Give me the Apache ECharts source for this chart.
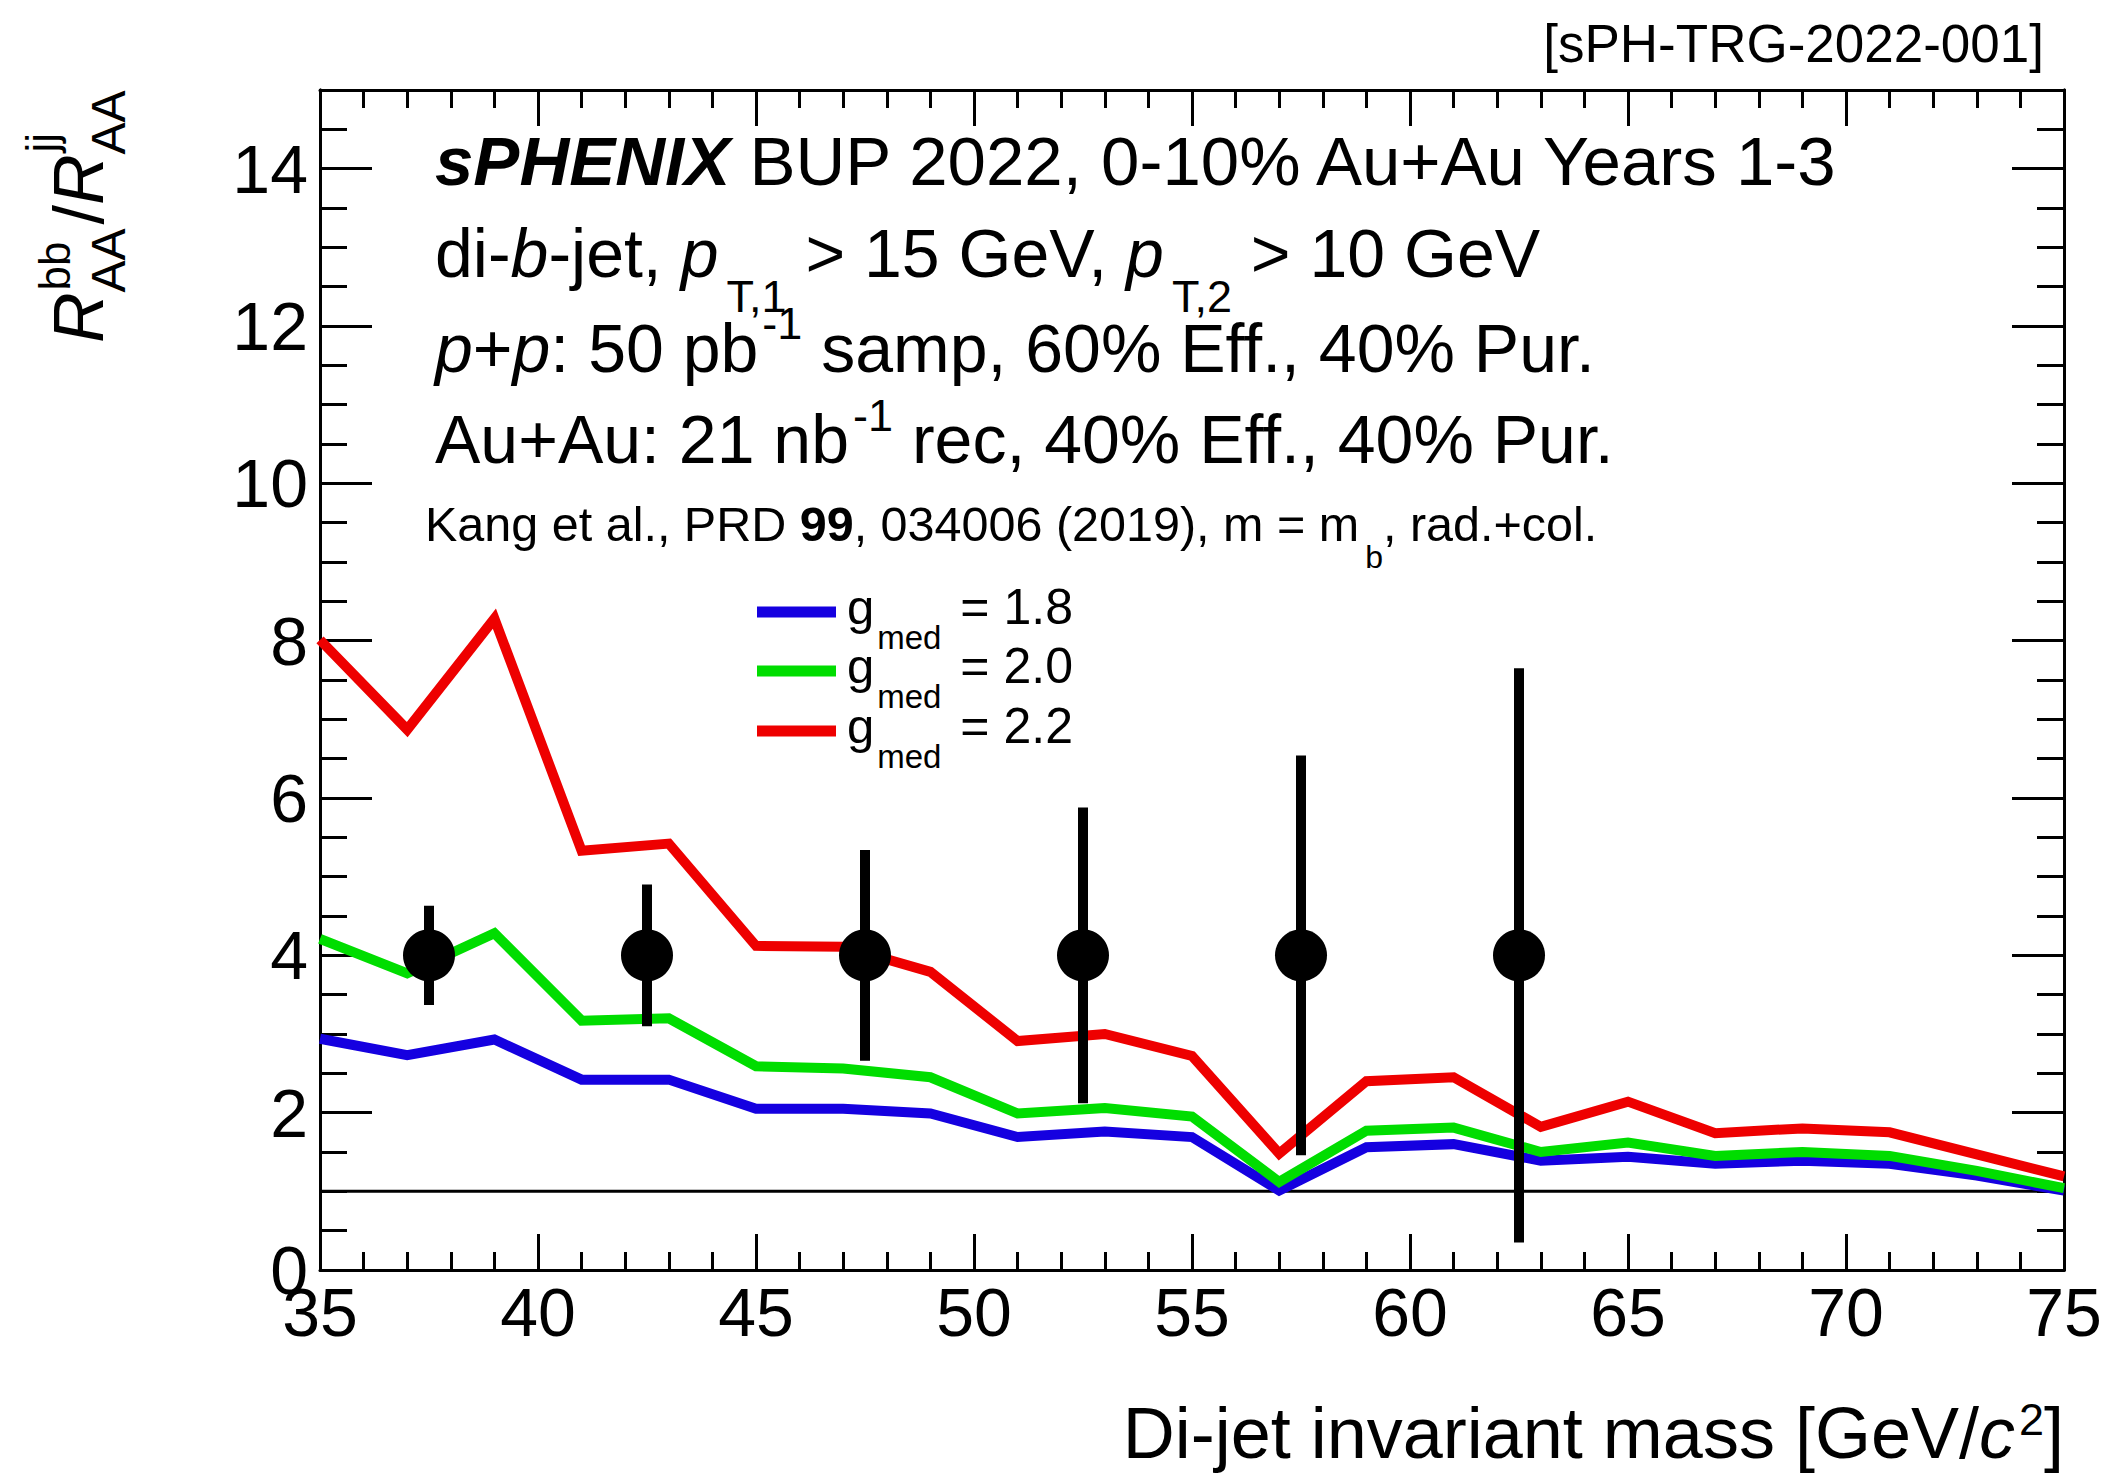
<!DOCTYPE html>
<html>
<head>
<meta charset="utf-8">
<title>di-b-jet R_AA ratio vs di-jet invariant mass</title>
<script src="https://cdn.jsdelivr.net/npm/echarts@6/dist/echarts.min.js"></script>
<style>
  html, body { margin: 0; padding: 0; background: #ffffff; }
  #chart { width: 2111px; height: 1474px; }
</style>
</head>
<body>
<div id="chart"></div>
<script>
// ---- data -------------------------------------------------------------
// di-jet invariant mass points of the theory curves [GeV/c^2]
const massBins = [35, 37, 39, 41, 43, 45, 47, 49, 51, 53, 55, 57, 59, 61, 63, 65, 67, 69, 71, 73, 75];
// R_AA^bb / R_AA^jj for three coupling values (Kang et al.)
const ratioG18 = [2.94, 2.73, 2.93, 2.42, 2.42, 2.05, 2.05, 1.99, 1.69, 1.76, 1.69, 1.01, 1.56, 1.60, 1.39, 1.44, 1.35, 1.39, 1.35, 1.20, 1.01];
const ratioG20 = [4.21, 3.77, 4.28, 3.17, 3.20, 2.59, 2.56, 2.45, 1.99, 2.06, 1.95, 1.12, 1.77, 1.81, 1.50, 1.62, 1.45, 1.50, 1.45, 1.26, 1.04];
const ratioG22 = [8.01, 6.87, 8.28, 5.33, 5.42, 4.12, 4.11, 3.79, 2.91, 3.00, 2.72, 1.48, 2.40, 2.45, 1.82, 2.14, 1.74, 1.80, 1.75, 1.47, 1.19];
const curveLabels = ['1.8', '2.0', '2.2'];

// projected sPHENIX measurement: bin centres, plotted value, stat. uncertainty
const projMass = [37.5, 42.5, 47.5, 52.5, 57.5, 62.5];
const projRatio = [4, 4, 4, 4, 4, 4];
const projErr = [0.63, 0.90, 1.34, 1.88, 2.54, 3.65];

// reference level R = 1
const unityLevel = [1];

// axis ranges and tick steps
const xRange = [35, 75];
const xStep = [5, 1];        // major, minor
const yRange = [0, 15];
const yStep = [2, 0.5];      // major, minor

// ---- styling ------------------------------------------------------------
const FONT = '"Liberation Sans", Arial, Helvetica, sans-serif';
const COLORS = ['#1500e0', '#00dd00', '#ee0000'];
const INK = '#000000';

// text helper: lays out runs of plain / italic / bold / sub / superscript text
const measureCtx = document.createElement('canvas').getContext('2d');
const MID = 0.347; // distance from alphabetic baseline to the "middle" baseline, in em
function cssFont(f) {
  return (f.it ? 'italic ' : 'normal ') + (f.bd ? 'bold ' : 'normal ') + f.s + 'px ' + FONT;
}
function runWidth(f) {
  measureCtx.font = cssFont(f);
  return measureCtx.measureText(f.t).width;
}
function textRun(frags, x0, base, align) {
  let cur = 0, pendingEnd = 0;
  const placed = [];
  frags.forEach(f => {
    const w = runWidth(f);
    const start = cur + (f.dx || 0);
    placed.push({ f, start });
    if (f.keep) {
      pendingEnd = Math.max(pendingEnd, start + w);
    } else {
      cur = Math.max(start + w, pendingEnd);
      pendingEnd = 0;
    }
  });
  const offset = align === 'right' ? x0 - cur : x0;
  return placed.map(p => ({
    type: 'text',
    x: offset + p.start,
    y: base + (p.f.dy || 0) - MID * p.f.s,
    silent: true,
    style: {
      text: p.f.t,
      fontFamily: FONT,
      fontSize: p.f.s,
      fontStyle: p.f.it ? 'italic' : 'normal',
      fontWeight: p.f.bd ? 'bold' : 'normal',
      fill: INK,
      align: 'left', textAlign: 'left',
      verticalAlign: 'middle', textVerticalAlign: 'middle'
    }
  }));
}

// ---- annotations ----------------------------------------------------------
const graphics = [];
graphics.push(...textRun([{ t: '[sPH-TRG-2022-001]', s: 53 }], 2044, 62, 'right'));

graphics.push(...textRun([
  { t: 'sPHENIX', s: 69, it: true, bd: true },
  { t: ' BUP 2022, 0-10% Au+Au Years 1-3', s: 69 }
], 435, 185));

graphics.push(...textRun([
  { t: 'di-', s: 68 }, { t: 'b', s: 68, it: true }, { t: '-jet, ', s: 68 },
  { t: 'p', s: 68, it: true }, { t: 'T,1', s: 45, dy: 35, dx: 8 },
  { t: ' > 15 GeV, ', s: 68 },
  { t: 'p', s: 68, it: true }, { t: 'T,2', s: 45, dy: 35, dx: 8 },
  { t: ' > 10 GeV', s: 68 }
], 435, 277));

graphics.push(...textRun([
  { t: 'p', s: 68, it: true }, { t: '+', s: 68 }, { t: 'p', s: 68, it: true },
  { t: ': 50 pb', s: 68 }, { t: '-1', s: 45, dy: -33, dx: 4 },
  { t: ' samp, 60% Eff., 40% Pur.', s: 68 }
], 435, 372));

graphics.push(...textRun([
  { t: 'Au+Au: 21 nb', s: 68 }, { t: '-1', s: 45, dy: -32, dx: 4 },
  { t: ' rec, 40% Eff., 40% Pur.', s: 68 }
], 435, 463));

graphics.push(...textRun([
  { t: 'Kang et al., PRD ', s: 48.5 }, { t: '99', s: 48.5, bd: true },
  { t: ', 034006 (2019), m = m', s: 48.5 }, { t: 'b', s: 32, dy: 27, dx: 6 },
  { t: ', rad.+col.', s: 48.5 }
], 425, 541));

// legend: colour swatch + g_med = value
const legendRows = [612, 671, 731];
curveLabels.forEach((lab, i) => {
  graphics.push({
    type: 'rect', silent: true,
    shape: { x: 757, y: legendRows[i] - 5.5, width: 79, height: 11 },
    style: { fill: COLORS[i] }
  });
  graphics.push(...textRun([
    { t: 'g', s: 49 }, { t: 'med', s: 33, dy: 25, dx: 3 },
    { t: ' = ' + lab, s: 50, dx: 5 }
  ], 847, legendRows[i] + 12));
});

// x-axis title, right aligned to the frame
graphics.push(...textRun([
  { t: 'Di-jet invariant mass [GeV/', s: 72 }, { t: 'c', s: 72, it: true },
  { t: '2', s: 45, dy: -23, dx: 4 }, { t: ']', s: 72 }
], 2064, 1458, 'right'));

// y-axis title, rotated to read bottom-to-top
graphics.push({
  type: 'group', x: 103, y: 343, rotation: Math.PI / 2, silent: true,
  children: textRun([
    { t: 'R', s: 70, it: true },
    { t: 'bb', s: 44, dy: -33, dx: 2, keep: true }, { t: 'AA', s: 48, dy: 22 },
    { t: '/', s: 70, dx: 4 },
    { t: 'R', s: 70, it: true },
    { t: 'jj', s: 44, dy: -46, dx: 2, keep: true }, { t: 'AA', s: 48, dy: 22 }
  ], 0, 0)
});

// ---- axes -----------------------------------------------------------------
const frameLine = { show: true, onZero: false, lineStyle: { color: INK, width: 3 } };
const tickLabel = { color: INK, fontFamily: FONT, fontSize: 68 };

function xAxisDef(pos, withLabels) {
  return {
    type: 'value', position: pos, min: xRange[0], max: xRange[1], interval: xStep[0],
    axisLine: frameLine,
    axisTick: { show: true, inside: true, length: 36, lineStyle: { color: INK, width: 3 } },
    minorTick: { show: true, splitNumber: Math.round(xStep[0] / xStep[1]), length: 18, lineStyle: { color: INK, width: 3 } },
    axisLabel: withLabels ? Object.assign({ show: true, margin: 8 }, tickLabel) : { show: false },
    splitLine: { show: false }, minorSplitLine: { show: false }
  };
}
function yAxisDef(pos, step, tickLen, withLabels) {
  return {
    type: 'value', position: pos, min: yRange[0], max: yRange[1], interval: step,
    axisLine: frameLine,
    axisTick: { show: true, inside: true, length: tickLen, lineStyle: { color: INK, width: 3 } },
    axisLabel: withLabels ? Object.assign({
      show: true, margin: 12, showMaxLabel: false,
      formatter: v => (v % yStep[0] === 0 ? String(v) : '')
    }, tickLabel) : { show: false },
    splitLine: { show: false }
  };
}

// ---- series ---------------------------------------------------------------
const curveSeries = [ratioG18, ratioG20, ratioG22].map((vals, i) => ({
  name: 'g_med = ' + curveLabels[i],
  type: 'line',
  data: massBins.map((m, k) => [m, vals[k]]),
  symbol: 'none',
  lineStyle: { color: COLORS[i], width: 10, join: 'miter', cap: 'butt' },
  emphasis: { disabled: true },
  z: 3
}));

const option = {
  animation: false,
  backgroundColor: '#ffffff',
  grid: { left: 320, top: 90, width: 1744, height: 1180, containLabel: false, outerBoundsMode: 'none' },
  xAxis: [xAxisDef('bottom', true), xAxisDef('top', false)],
  yAxis: [
    yAxisDef('left', yStep[0], 52, true),
    yAxisDef('left', yStep[1], 27, false),
    yAxisDef('right', yStep[0], 52, false),
    yAxisDef('right', yStep[1], 27, false)
  ],
  graphic: { elements: graphics },
  series: [
    {
      name: 'unity', type: 'line',
      data: [[xRange[0], unityLevel[0]], [xRange[1], unityLevel[0]]],
      symbol: 'none', lineStyle: { color: INK, width: 3 },
      emphasis: { disabled: true }, z: 2
    },
    ...curveSeries,
    {
      name: 'stat. uncertainty', type: 'custom',
      data: projMass.map((m, k) => [m, projRatio[k], projErr[k]]),
      encode: { x: 0, y: 1 },
      renderItem: (params, api) => {
        const x = api.value(0), y = api.value(1), e = api.value(2);
        const hi = api.coord([x, y + e]);
        const lo = api.coord([x, y - e]);
        return {
          type: 'line',
          shape: { x1: hi[0], y1: hi[1], x2: lo[0], y2: lo[1] },
          style: { stroke: INK, lineWidth: 10 }
        };
      },
      z: 4
    },
    {
      name: 'projection', type: 'scatter',
      data: projMass.map((m, k) => [m, projRatio[k]]),
      symbol: 'circle', symbolSize: 52,
      itemStyle: { color: INK, opacity: 1 },
      emphasis: { disabled: true }, z: 5
    }
  ]
};

const chart = echarts.init(document.getElementById('chart'), null, { renderer: 'svg', width: 2111, height: 1474 });
chart.setOption(option);
</script>
</body>
</html>
